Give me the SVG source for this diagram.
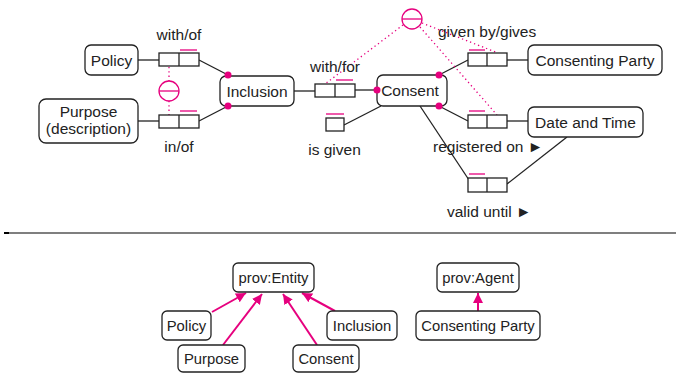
<svg xmlns="http://www.w3.org/2000/svg" width="676" height="373" viewBox="0 0 676 373">
<style>
.n{fill:#fff;stroke:#222;stroke-width:1.3}
.r{fill:#fff;stroke:#222;stroke-width:1.3}
.l{stroke:#222;stroke-width:1.3;fill:none}
.d{stroke:#e6007e;stroke-width:1.3;fill:none;stroke-dasharray:1.3 3}
.p{stroke:#e6007e;stroke-width:1.3;fill:none}
.a{stroke:#e6007e;stroke-width:2;fill:none}
.dot{fill:#e6007e}
text{font-family:"Liberation Sans",Arial,sans-serif;font-size:15.5px;fill:#222}
.c{text-anchor:middle}
.s{font-size:14.8px}
</style>
<defs>
<marker id="ah" viewBox="0 0 10 10" refX="10" refY="5" markerWidth="5" markerHeight="5" orient="auto" markerUnits="strokeWidth">
<path d="M0,0L10,5L0,10z" fill="#e6007e"/>
</marker>
</defs>
<g id="connectors">
<line class="l" x1="138" y1="60" x2="159" y2="60"/>
<line class="l" x1="138" y1="121" x2="159" y2="121"/>
<line class="l" x1="199" y1="60" x2="228" y2="75"/>
<line class="l" x1="199" y1="121" x2="228" y2="106"/>
<line class="l" x1="294" y1="91" x2="315" y2="91"/>
<line class="l" x1="355" y1="90" x2="377" y2="90"/>
<line class="l" x1="344" y1="125" x2="381" y2="106"/>
<line class="l" x1="439" y1="75" x2="468" y2="60"/>
<line class="l" x1="507" y1="60" x2="528" y2="60"/>
<line class="l" x1="439" y1="106" x2="468" y2="121"/>
<line class="l" x1="507" y1="121" x2="528" y2="121"/>
<line class="l" x1="420" y1="106" x2="469" y2="180"/>
<line class="l" x1="507" y1="184" x2="567" y2="137"/>
<line class="d" x1="169" y1="67" x2="169" y2="81"/>
<line class="d" x1="169" y1="101" x2="169" y2="115"/>
<line class="d" x1="403" y1="25" x2="325" y2="84"/>
<line class="d" x1="422" y1="23" x2="498" y2="53"/>
<line class="d" x1="420" y1="27" x2="497" y2="115"/>
<line class="a" x1="212" y1="312" x2="246" y2="293" marker-end="url(#ah)"/>
<line class="a" x1="223" y1="345" x2="262" y2="294" marker-end="url(#ah)"/>
<line class="a" x1="317" y1="345" x2="283" y2="294" marker-end="url(#ah)"/>
<line class="a" x1="335" y1="311" x2="302" y2="293" marker-end="url(#ah)"/>
<line class="a" x1="478" y1="311" x2="478" y2="293" marker-end="url(#ah)"/>
<line x1="4" y1="233" x2="676" y2="233" stroke="#000" stroke-width="1.2"/>
<line x1="4" y1="233" x2="9" y2="233" stroke="#000" stroke-width="2"/>
</g>
<g id="excl1">
<circle class="p" cx="169" cy="91" r="10"/>
<line class="p" x1="159" y1="91" x2="179" y2="91"/>
</g>
<g id="excl2">
<circle class="p" cx="412" cy="19" r="10"/>
<line class="p" x1="402" y1="19" x2="422" y2="19"/>
</g>
<g id="policy"><rect class="n" x="85" y="45" width="53" height="30" rx="6"/><text class="c" x="111.5" y="65.5">Policy</text></g>
<g id="purpose"><rect class="n" x="39" y="99" width="99" height="44" rx="7"/><text class="c" x="88.5" y="117">Purpose</text><text class="c" x="88.5" y="134">(description)</text></g>
<g id="role-withof"><rect class="r" x="159" y="53" width="40" height="13"/><line class="l" x1="179" y1="53" x2="179" y2="66"/><line class="p" x1="180" y1="50" x2="197" y2="50"/><text class="c" x="179" y="40">with/of</text></g>
<g id="role-inof"><rect class="r" x="159" y="115" width="40" height="13"/><line class="l" x1="179" y1="115" x2="179" y2="128"/><line class="p" x1="180" y1="111" x2="197" y2="111"/><text class="c" x="179" y="152">in/of</text></g>
<g id="inclusion"><rect class="n" x="220" y="76" width="74" height="30" rx="6"/><text class="c" x="257" y="96.5">Inclusion</text><circle class="dot" cx="228" cy="75" r="3.5"/><circle class="dot" cx="228" cy="106" r="3.5"/></g>
<g id="role-withfor"><rect class="r" x="315" y="84" width="40" height="13"/><line class="l" x1="335" y1="84" x2="335" y2="97"/><line class="p" x1="336" y1="80" x2="353" y2="80"/><text class="c" x="335" y="72">with/for</text></g>
<g id="role-isgiven"><rect class="r" x="326" y="118" width="18" height="13"/><line class="p" x1="326" y1="114" x2="344" y2="114"/><text class="c" x="334.5" y="155">is given</text></g>
<g id="consent"><rect class="n" x="377" y="75" width="70" height="31" rx="6"/><text class="c" x="410" y="96">Consent</text><circle class="dot" cx="377" cy="90" r="3.5"/><circle class="dot" cx="439" cy="75" r="3.5"/><circle class="dot" cx="439" cy="106" r="3.5"/></g>
<g id="role-givenby"><rect class="r" x="468" y="53" width="39" height="13"/><line class="l" x1="487" y1="53" x2="487" y2="66"/><line class="p" x1="469" y1="50" x2="485" y2="50"/><text x="438" y="37">given by/gives</text></g>
<g id="role-registered"><rect class="r" x="468" y="115" width="39" height="13"/><line class="l" x1="487" y1="115" x2="487" y2="128"/><line class="p" x1="469" y1="111" x2="485" y2="111"/><text x="433" y="152">registered on ►</text></g>
<g id="role-validuntil"><rect class="r" x="468" y="178" width="39" height="14"/><line class="l" x1="487" y1="178" x2="487" y2="192"/><line class="p" x1="469" y1="174" x2="485" y2="174"/><text x="447" y="217">valid until ►</text></g>
<g id="consenting-party"><rect class="n" x="528" y="45" width="134" height="30" rx="6"/><text class="c" x="595" y="65.5">Consenting Party</text></g>
<g id="date-time"><rect class="n" x="528" y="107" width="115" height="30" rx="6"/><text class="c" x="585.5" y="127.5">Date and Time</text></g>
<g id="b-entity"><rect class="n" x="233" y="263" width="81" height="29" rx="5"/><text class="c s" x="273.5" y="282.5">prov:Entity</text></g>
<g id="b-agent"><rect class="n" x="437" y="263" width="82" height="29" rx="5"/><text class="c s" x="478" y="282.5">prov:Agent</text></g>
<g id="b-policy"><rect class="n" x="162" y="311" width="49" height="29" rx="5"/><text class="c s" x="186.5" y="330.5">Policy</text></g>
<g id="b-purpose"><rect class="n" x="178" y="345" width="67" height="27" rx="5"/><text class="c s" x="211.5" y="364">Purpose</text></g>
<g id="b-consent"><rect class="n" x="293" y="345" width="66" height="27" rx="5"/><text class="c s" x="326" y="364">Consent</text></g>
<g id="b-inclusion"><rect class="n" x="327" y="311" width="70" height="29" rx="5"/><text class="c s" x="362" y="331">Inclusion</text></g>
<g id="b-consenting-party"><rect class="n" x="416" y="311" width="124" height="29" rx="5"/><text class="c s" x="478" y="331">Consenting Party</text></g>
</svg>
